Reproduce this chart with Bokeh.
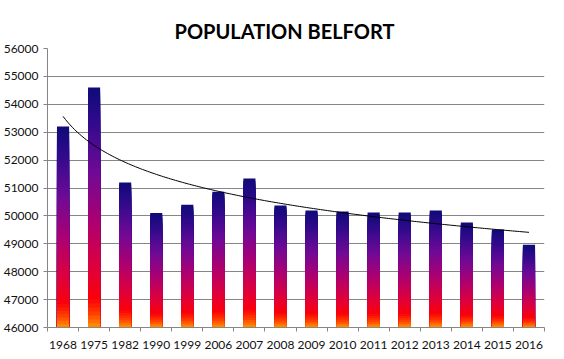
import numpy as np
from bokeh.plotting import figure
from bokeh.models import FixedTicker, ColumnDataSource, NumeralTickFormatter, Range1d
from bokeh.embed import file_html
from bokeh.resources import INLINE

years = ["1968", "1975", "1982", "1990", "1999", "2006", "2007", "2008",
         "2009", "2010", "2011", "2012", "2013", "2014", "2015", "2016"]
population = [53200, 54600, 51200, 50100, 50400, 50870, 51340, 50370,
              50190, 50160, 50120, 50120, 50190, 49760, 49510, 48970]
y_ticks = list(range(46000, 56001, 1000))
y_min, y_max = 46000, 56000

# gradient stops (fraction from bar bottom, colour)
stops = [(0.00, (255, 150, 0)), (0.06, (255, 60, 0)), (0.12, (250, 0, 10)),
         (0.25, (222, 0, 60)), (0.45, (170, 0, 115)), (0.65, (110, 10, 150)),
         (0.85, (50, 10, 140)), (1.00, (15, 10, 120))]


def grad(t):
    for (t0, c0), (t1, c1) in zip(stops[:-1], stops[1:]):
        if t <= t1:
            f = (t - t0) / (t1 - t0)
            c = [round(a + (b - a) * f) for a, b in zip(c0, c1)]
            return "#%02x%02x%02x" % tuple(c)
    return "#%02x%02x%02x" % stops[-1][1]


xpos = list(range(1, len(years) + 1))
n = 60
rx, rtop, rcol = [], [], []
for xi, v in zip(xpos, population):
    for k in reversed(range(n)):
        rx.append(xi)
        rtop.append(y_min + (v - y_min) * (k + 1) / n)
        rcol.append(grad((k + 0.5) / n))
src = ColumnDataSource(dict(x=rx, top=rtop, color=rcol))

p = figure(width=548, height=351, output_backend="svg", toolbar_location=None,
           x_range=Range1d(0.5, len(years) + 0.5), y_range=Range1d(y_min, y_max),
           min_border_left=46, min_border_right=4, min_border_top=48,
           min_border_bottom=22)
p.outline_line_color = None

p.vbar(x="x", top="top", bottom=y_min, width=0.39, fill_color="color",
       line_color=None, source=src)

coef = np.polyfit(np.log(xpos), population, 1)
tx = np.linspace(1, len(years), 200)
p.line(tx, coef[0] * np.log(tx) + coef[1], line_color="black", line_width=1)

p.title.text = "POPULATION BELFORT"
p.title.align = "left"
p.title.vertical_align = "top"
p.title.offset = 127
p.title.text_font = "Lato"
p.title.text_font_style = "bold"
p.title.text_font_size = "20px"
p.title.text_color = "black"
p.title.standoff = 8

grey = "#868686"
p.xgrid.visible = False
p.ygrid.ticker = FixedTicker(ticks=y_ticks)
p.ygrid.grid_line_color = grey

p.yaxis.ticker = FixedTicker(ticks=y_ticks)
p.yaxis.formatter = NumeralTickFormatter(format="0")
p.yaxis.major_tick_in = 0
p.yaxis.major_tick_out = 4
p.yaxis.major_tick_line_color = grey
p.yaxis.minor_tick_line_color = None
p.yaxis.axis_line_color = grey
p.yaxis.major_label_standoff = 5

p.xaxis.ticker = FixedTicker(ticks=xpos, minor_ticks=[x - 0.5 for x in xpos] + [len(years) + 0.5])
p.xaxis.major_label_overrides = {x: y for x, y in zip(xpos, years)}
p.xaxis.major_tick_line_color = None
p.xaxis.minor_tick_in = 0
p.xaxis.minor_tick_out = 4
p.xaxis.minor_tick_line_color = grey
p.xaxis.axis_line_color = grey
p.xaxis.major_label_standoff = 7

for ax in (p.xaxis, p.yaxis):
    ax.major_label_text_font = "Lato"
    ax.major_label_text_font_size = "12px"
    ax.major_label_text_color = "#111111"

open("out.html", "w").write(file_html(p, INLINE))
